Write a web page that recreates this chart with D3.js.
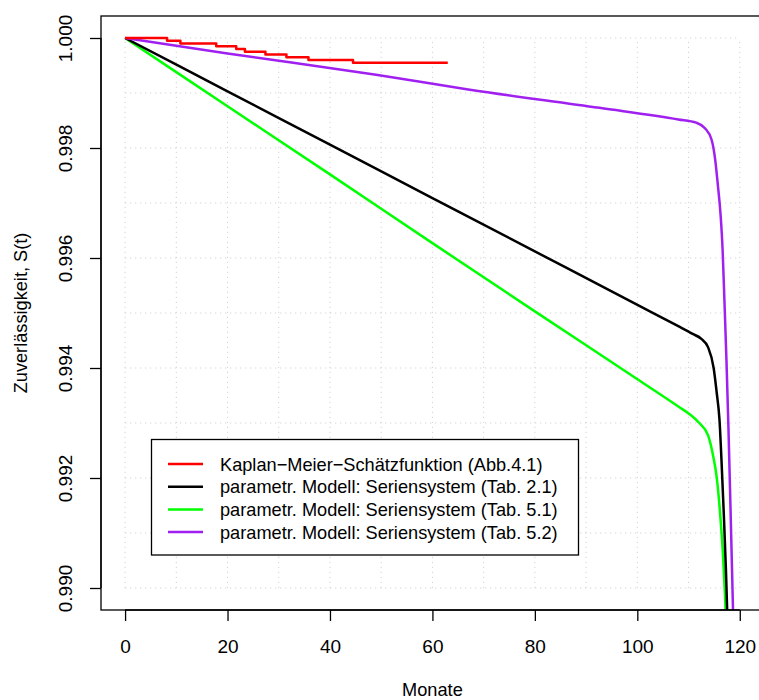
<!DOCTYPE html>
<html>
<head>
<meta charset="utf-8">
<script src="https://cdn.jsdelivr.net/npm/d3@7"></script>
<style>
  html, body { margin: 0; padding: 0; background: #fff; }
  svg { display: block; font-family: "Liberation Sans", Arial, Helvetica, sans-serif; }
</style>
</head>
<body>
<svg id="chart" width="759" height="700"></svg>
<script>
// Kaplan–Meier step estimate (months, survival)
const kmTime = [0, 8.2, 10.8, 17.8, 21.7, 23.4, 27.4, 31.5, 35.8, 44.5, 63.0];
const kmSurv = [1.0, 0.99995, 0.99990, 0.99985, 0.99980, 0.99975, 0.99970, 0.99965, 0.99960, 0.99955, 0.99955];

// Parametric series-system models
const tab21Time = [0, 20, 40, 60, 80, 100.4, 108, 110.8, 112.5, 113.8, 114.9, 115.5, 116.04, 116.43, 116.85, 117.3, 117.62];
const tab21Surv = [1.0, 0.99903, 0.99806, 0.99709, 0.99612, 0.99513, 0.99476, 0.99462, 0.99453, 0.99438, 0.99400, 0.99355, 0.99306, 0.99233, 0.99142, 0.99033, 0.98935];

const tab51Time = [0, 20, 40, 60, 80, 100.1, 108, 110.2, 112.1, 113.8, 114.7, 115.5, 115.94, 116.33, 116.72, 117.11, 117.31];
const tab51Surv = [1.0, 0.99876, 0.99752, 0.99627, 0.99503, 0.99379, 0.99330, 0.99316, 0.99300, 0.99278, 0.99245, 0.99201, 0.99161, 0.99115, 0.99061, 0.98988, 0.98942];

const tab52Time = [0, 20, 49, 67.3, 92.6, 108, 111.5, 113.2, 114.5, 115.2, 115.75, 116.25, 116.65, 117.0, 117.4, 117.8, 118.2, 118.75];
const tab52Surv = [1.0, 0.99972, 0.99933, 0.99906, 0.99873, 0.99852, 0.99846, 0.99836, 0.99815, 0.99779, 0.99730, 0.99679, 0.99615, 0.99524, 0.99415, 0.99288, 0.99142, 0.98935];

const seriesNames = [
  "Kaplan\u2212Meier\u2212Schätzfunktion (Abb.4.1)",
  "parametr. Modell: Seriensystem (Tab. 2.1)",
  "parametr. Modell: Seriensystem (Tab. 5.1)",
  "parametr. Modell: Seriensystem (Tab. 5.2)"
];
const seriesColors = ["#FF0000", "#000000", "#00FF00", "#A020F0"];

const xTicks = [0, 20, 40, 60, 80, 100, 120];
const yTicks = [0.990, 0.992, 0.994, 0.996, 0.998, 1.000];
const xGrid = d3.range(0, 121, 10);
const yGrid = [0.990, 0.991, 0.992, 0.993, 0.994, 0.995, 0.996, 0.997, 0.998, 0.999, 1.000];

const FS = 19;      // tick labels
const FS_TXT = 18.2; // titles and legend
const svg = d3.select("#chart");
const box = { left: 101, right: 760, top: 16, bottom: 610 };

const x = d3.scaleLinear().domain([-4.7, 123.95]).range([box.left, box.right]);
const y = d3.scaleLinear().domain([0.9896, 1.0004]).range([box.bottom, box.top]);

svg.append("defs").append("clipPath").attr("id", "plotClip")
  .append("rect")
  .attr("x", box.left).attr("y", box.top)
  .attr("width", box.right - box.left).attr("height", box.bottom - box.top);

// dotted grid, limited to the data window
const grid = svg.append("g")
  .attr("stroke", "#D3D3D3").attr("stroke-width", 1)
  .attr("stroke-dasharray", "1.2,3.8");
grid.selectAll("line.v").data(xGrid).join("line").attr("class", "v")
  .attr("x1", d => x(d)).attr("x2", d => x(d))
  .attr("y1", y(0.990)).attr("y2", y(1.000));
grid.selectAll("line.h").data(yGrid).join("line").attr("class", "h")
  .attr("x1", x(0)).attr("x2", x(120))
  .attr("y1", d => y(d)).attr("y2", d => y(d));

// curves
const curves = svg.append("g").attr("clip-path", "url(#plotClip)").attr("fill", "none")
  .attr("stroke-width", 2.5).attr("stroke-linejoin", "round");

const smooth = d3.line().x(d => x(d[0])).y(d => y(d[1])).curve(d3.curveMonotoneX);
const step = d3.line().x(d => x(d[0])).y(d => y(d[1])).curve(d3.curveStepAfter);

const zip = (a, b) => a.map((v, i) => [v, b[i]]);

curves.append("path").attr("d", smooth(zip(tab51Time, tab51Surv))).attr("stroke", seriesColors[2]);
curves.append("path").attr("d", smooth(zip(tab21Time, tab21Surv))).attr("stroke", seriesColors[1]);
curves.append("path").attr("d", smooth(zip(tab52Time, tab52Surv))).attr("stroke", seriesColors[3]);
curves.append("path").attr("d", step(zip(kmTime, kmSurv))).attr("stroke", seriesColors[0]);

// plot frame
svg.append("rect")
  .attr("x", box.left).attr("y", box.top)
  .attr("width", box.right - box.left).attr("height", box.bottom - box.top)
  .attr("fill", "none").attr("stroke", "#000").attr("stroke-width", 1.3);

// axes
const xAxis = d3.axisBottom(x).tickValues(xTicks).tickSize(11).tickPadding(19)
  .tickFormat(d3.format("d"));
const gx = svg.append("g").attr("transform", `translate(0,${box.bottom})`).call(xAxis);
gx.select(".domain").attr("d", `M${x(0)},0H${x(120)}`).attr("stroke-width", 1.3);
gx.selectAll(".tick line").attr("stroke-width", 1.3);
gx.selectAll("text").attr("font-size", FS).attr("font-family", "Liberation Sans, Arial, sans-serif")
  .attr("fill", "#000").attr("dy", "0.71em");

const yAxis = d3.axisLeft(y).tickValues(yTicks).tickSize(11).tickFormat(d3.format(".3f"));
const gy = svg.append("g").attr("transform", `translate(${box.left},0)`).call(yAxis);
gy.select(".domain").attr("d", `M0,${y(0.990)}V${y(1.000)}`).attr("stroke-width", 1.3);
gy.selectAll(".tick line").attr("stroke-width", 1.3);
gy.selectAll("text")
  .attr("font-size", FS).attr("font-family", "Liberation Sans, Arial, sans-serif").attr("fill", "#000")
  .attr("x", null).attr("dy", null)
  .attr("text-anchor", "middle")
  .attr("transform", "translate(-29,0) rotate(-90)");

// axis titles
svg.append("text").attr("x", x(60)).attr("y", 696)
  .attr("text-anchor", "middle").attr("font-size", FS_TXT).text("Monate");
svg.append("text")
  .attr("transform", `translate(27,${(box.top + box.bottom) / 2}) rotate(-90)`)
  .attr("text-anchor", "middle").attr("font-size", FS_TXT).text("Zuverlässigkeit, S(t)");

// legend
const legend = svg.append("g");
legend.append("rect")
  .attr("x", 151.5).attr("y", 439.5).attr("width", 427).attr("height", 115.5)
  .attr("fill", "#fff").attr("stroke", "#000").attr("stroke-width", 1.3);
const rows = legend.selectAll("g.row").data(seriesNames).join("g").attr("class", "row")
  .attr("transform", (d, i) => `translate(0,${464 + i * 22.7})`);
rows.append("line").attr("x1", 168).attr("x2", 203).attr("y1", 0).attr("y2", 0)
  .attr("stroke", (d, i) => seriesColors[i]).attr("stroke-width", 2.5);
rows.append("text").attr("x", 220).attr("y", 0).attr("dy", "0.36em")
  .attr("font-size", FS_TXT).attr("fill", "#000").text(d => d);
</script>
</body>
</html>
